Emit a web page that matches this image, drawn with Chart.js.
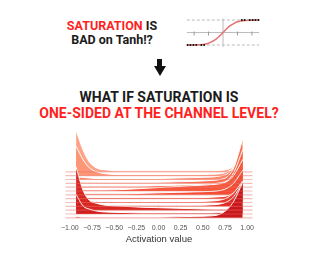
<!DOCTYPE html>
<html>
<head>
<meta charset="utf-8">
<script src="https://cdn.jsdelivr.net/npm/chart.js@4.4.0/dist/chart.umd.min.js"></script>
<style>
  body { margin: 0; width: 320px; height: 256px; background: #fff; position: relative; overflow: hidden;
         font-family: Roboto, "Liberation Sans", sans-serif; }
  .t { position: absolute; font-weight: 700; color: #1b1b1b; white-space: nowrap; text-align: center; }
  .red { color: #ff1f1f; }
  #q1 { left: 62px; top: 19px; width: 100px; font-size: 12.5px; line-height: 14px; }
  #q2 { left: 0; top: 89px; width: 318px; font-size: 14px; line-height: 16px; }
  #shaft { position: absolute; left: 157px; top: 59px; width: 5px; height: 8px; background: #111; }
  #head { position: absolute; left: 154px; top: 66px; width: 0; height: 0;
          border-left: 6px solid transparent; border-right: 6px solid transparent; border-top: 10px solid #111; }
  #tanhBox { position: absolute; left: 181px; top: 12px; }
  #ridgeBox { position: absolute; left: 0; top: 124px; }
  #xTitle { position: absolute; left: 108px; width: 102px; top: 232.5px; text-align: center;
            font-family: "Liberation Sans", sans-serif; font-size: 9.5px; line-height: 12px; color: #333; }
</style>
</head>
<body>
<div class="t" id="q1"><span class="red">SATURATION</span> IS<br>BAD on Tanh!?</div>
<div id="shaft"></div>
<div id="head"></div>
<div class="t" id="q2">WHAT IF SATURATION IS<br><span class="red">ONE-SIDED AT THE CHANNEL LEVEL?</span></div>
<div id="tanhBox"><canvas id="tanhChart" width="84" height="42"></canvas></div>
<div id="ridgeBox"><canvas id="ridgeChart" width="320" height="132"></canvas></div>
<div id="xTitle">Activation value</div>

<script>
// ---- small tanh plot ----
const tanhX = [-5, -4, -3, -2.5, -2, -1.5, -1, -0.5, 0, 0.5, 1, 1.5, 2, 2.5, 3, 4, 5];
const tanhY = [-1, -0.99, -0.97, -0.93, -0.86, -0.72, -0.55, -0.3, 0, 0.3, 0.55, 0.72, 0.86, 0.93, 0.97, 0.99, 1];
const satLeftX = [-4.9, -4.5, -4.1, -3.7, -3.0, -2.6];
const satRightX = [2.6, 3.0, 3.7, 4.1, 4.5, 4.9];
const tanhTicks = [-4, -2, 2, 4];
const tanhSpan = [-5, 5];
const tanhLevels = [-1, 1];

// ---- ridgeline ----
const xTicks = [-1, -0.75, -0.5, -0.25, 0, 0.25, 0.5, 0.75, 1];
const xGrid = [-0.93, -0.85, -0.78, -0.7, -0.6, -0.4, -0.2, 0, 0.2, 0.4, 0.6, 0.7, 0.78, 0.85, 0.95];
// density height of each channel (top row first)
const ch0  = [42, 22, 10, 4, 2, 1, 1, 1, 1, 1, 1, 1.5, 2.5, 5, 8];
const ch1  = [30, 16, 8, 4, 2, 1, 1, 1, 1, 1, 1.5, 2, 4, 8, 14];
const ch2  = [3, 2, 1.5, 1, 1, 1, 1, 1, 1.5, 2, 2.5, 3.5, 6, 13, 30];
const ch3  = [2, 1, 1, 1, 1, 1, 1, 1, 1.5, 2, 3, 4, 7, 16, 45];
const ch4  = [1.5, 1, 1, 1, 1, 1, 1, 1.5, 2, 2.5, 3.5, 4.5, 7, 15, 38];
const ch5  = [1, 1, 1, 1, 1, 1.5, 2.5, 3.5, 4.5, 5.5, 6.5, 7.5, 10, 16, 32];
const ch6  = [1, 1, 1, 1, 1, 1, 1.5, 2, 2.5, 3, 3.5, 4.5, 7, 12, 25];
const ch7  = [2, 1, 1, 1, 1, 1, 1, 1, 1, 1, 1.5, 2, 3, 6, 15];
const ch8  = [5, 2.5, 1.5, 1, 1, 1, 1, 1, 1, 1, 1.5, 2.5, 5, 10, 22];
const ch9  = [5, 2.5, 1.5, 1, 1, 1, 1, 1, 1, 1, 1.5, 2.5, 5, 10, 25];
const ch10 = [44, 20, 10, 7, 5, 4, 3, 2.5, 2, 1.5, 1, 1, 1, 1.5, 3];
const ch11 = [20, 8, 5, 3, 2, 1.5, 1, 1, 1, 1, 1, 1.5, 2.5, 4, 10];
const ch12 = [1, 0.5, 0.5, 0.5, 0.5, 0.5, 0.5, 0.5, 1, 1.5, 2, 4, 9, 17, 36];
const channels = [ch0, ch1, ch2, ch3, ch4, ch5, ch6, ch7, ch8, ch9, ch10, ch11, ch12];
const lineSpan = [-1.05, 1.06];

const ridgeColors = ['#fca487', '#fc9676', '#fc8363', '#fb7252', '#fa6547', '#f6583e', '#f24b36',
                     '#ee3e2e', '#e6352a', '#de2b25', '#d82622', '#d11f1f', '#c9181d'];
const rowGap = 3.9;

function fmtTick(v) {
  return v.toFixed(2).replace('-', '\u2212');
}

function drawTanh() {
  const ctx = document.getElementById('tanhChart').getContext('2d');
  new Chart(ctx, {
    type: 'line',
    data: {
      datasets: [
        {
          data: satLeftX.map(x => ({ x: x, y: -1 })).concat(satRightX.map(x => ({ x: x, y: 1 }))),
          showLine: false, pointRadius: 1, pointBackgroundColor: '#111', pointBorderWidth: 0, order: 0
        },
        {
          data: tanhX.map((x, i) => ({ x: x, y: tanhY[i] })),
          borderColor: '#e3736e', borderWidth: 1.5, pointRadius: 0, cubicInterpolationMode: 'monotone', order: 1
        },
        {
          data: tanhTicks.map(x => ({ x: x, y: -0.08 })),
          showLine: false, pointStyle: 'line', rotation: 90, pointRadius: 2,
          pointBorderColor: '#999', pointBorderWidth: 1, order: 2
        },
        {
          data: tanhSpan.map(x => ({ x: x, y: 0 })),
          borderColor: '#bbb', borderWidth: 1, pointRadius: 0, order: 3
        },
        {
          data: [{ x: 0, y: -1.15 }, { x: 0, y: 1.12 }],
          borderColor: '#bbb', borderWidth: 1, pointRadius: 0, order: 3
        },
        ...tanhLevels.map(lv => ({
          data: tanhSpan.map(x => ({ x: x, y: lv })),
          borderColor: '#bbb', borderWidth: 1, borderDash: [3, 2], pointRadius: 0, order: 4
        }))
      ]
    },
    options: {
      responsive: false, animation: false,
      layout: { padding: 0 },
      plugins: { legend: { display: false }, tooltip: { enabled: false } },
      scales: {
        x: { type: 'linear', display: false, min: -5.12, max: 5.12 },
        y: { display: false, min: -1.32, max: 1.245 }
      }
    }
  });
}

function drawRidges() {
  const ctx = document.getElementById('ridgeChart').getContext('2d');
  const n = channels.length;
  // back rows get a higher order so they are painted first
  const ridgeSets = channels.map((h, i) => {
    const base = (n - 1 - i) * rowGap;
    return {
      data: xGrid.map((x, k) => ({ x: x, y: base + h[k] })),
      fill: { value: base },
      backgroundColor: ridgeColors[i],
      borderColor: '#ffffff',
      borderWidth: 1,
      pointRadius: 0,
      cubicInterpolationMode: 'monotone',
      order: 100 - i
    };
  });
  const baseSets = channels.map((h, i) => {
    const base = (n - 1 - i) * rowGap;
    return {
      data: lineSpan.map(x => ({ x: x, y: base })),
      borderColor: 'rgba(236, 110, 100, 0.45)',
      borderWidth: 1.2,
      pointRadius: 0,
      fill: false,
      order: 0
    };
  });

  new Chart(ctx, {
    type: 'line',
    data: { datasets: baseSets.concat(ridgeSets) },
    options: {
      responsive: false, animation: false,
      layout: { padding: { left: 61, right: 64, top: 3.4, bottom: 18.8 } },
      plugins: { legend: { display: false }, tooltip: { enabled: false } },
      scales: {
        x: {
          type: 'linear', min: -1.1, max: 1.1,
          afterBuildTicks: scale => { scale.ticks = xTicks.map(v => ({ value: v })); },
          grid: { display: false, drawTicks: false },
          border: { display: false },
          ticks: { font: { size: 7, family: 'Liberation Sans' }, color: '#555', padding: 4.5,
                   maxRotation: 0, callback: v => fmtTick(v) }
        },
        y: { display: false, min: -2, max: 92 }
      }
    }
  });
}

drawTanh();
drawRidges();
</script>
</body>
</html>
